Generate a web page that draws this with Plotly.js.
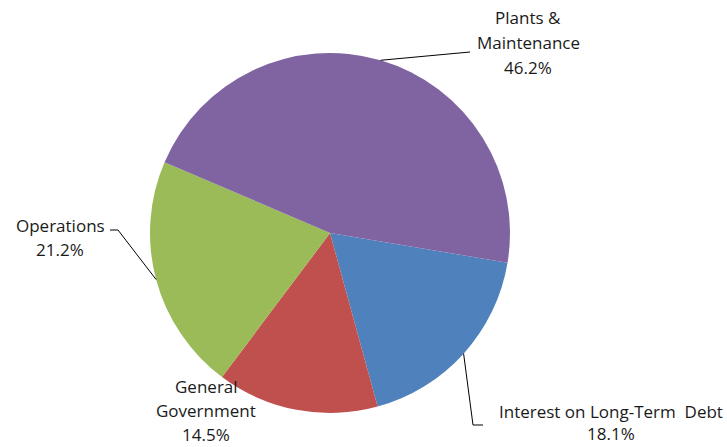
<!DOCTYPE html>
<html>
<head>
<meta charset="utf-8">
<script src="https://cdn.plot.ly/plotly-3.0.1.min.js"></script>
<style>html,body{margin:0;padding:0;background:#fff;}#chart{width:727px;height:447px;}</style>
</head>
<body>
<div id="chart"></div>
<script>
// Data
const categories = ["Interest on Long-Term  Debt", "General<br>Government", "Operations", "Plants &<br>Maintenance"];
const values = [18.1, 14.5, 21.2, 46.2];
const colors = ["#4F81BD", "#C0504D", "#9BBB59", "#8064A2"];

const W = 727, H = 447;
const cx = 330, cy = 233, R = 180;
const rotation = 99.5;
const px = x => x / W;
const py = y => 1 - y / H;

// mid-angle edge points computed from values (clockwise from 12 o'clock)
const total = values.reduce((a, b) => a + b, 0);
let acc = rotation;
const mids = values.map(v => {
  const a0 = acc, a1 = acc + v / total * 360;
  acc = a1;
  const m = (a0 + a1) / 2 * Math.PI / 180;
  return [cx + R * Math.sin(m), cy - R * Math.cos(m)];
});

// label placement (pixels: center x, first line center y) and leader-line elbows
const labelPos = [[611, 411], [206, 386], [60, 225], [528, 18]];
const lineGap = [22.5, 24, 24, 24.5];
const leaders = [
  [[473, 425], [483, 425]],
  null,
  [[118, 230], [110, 230]],
  [[470, 52]]
];

const shapes = [];
leaders.forEach((pts, i) => {
  if (!pts) return;
  let prev = mids[i];
  pts.forEach(p => {
    shapes.push({type: "line", xref: "paper", yref: "paper",
      x0: px(prev[0]), y0: py(prev[1]), x1: px(p[0]), y1: py(p[1]),
      line: {color: "#000", width: 1}});
    prev = p;
  });
});

const annotations = [];
categories.forEach((c, i) => {
  const lines = c.split("<br>").concat([values[i].toFixed(1) + "%"]);
  lines.forEach((t, k) => {
    annotations.push({
      xref: "paper", yref: "paper",
      x: px(labelPos[i][0]), y: py(labelPos[i][1] + k * lineGap[i]),
      xanchor: "center", yanchor: "middle", borderpad: 0,
      text: t, showarrow: false, align: "center",
      font: {family: "'Open Sans', 'Liberation Sans', sans-serif", size: 17, color: "#1a1a1a"}
    });
  });
});

const data = [{
  type: "pie",
  labels: categories,
  values: values,
  sort: false,
  direction: "clockwise",
  rotation: rotation,
  marker: {colors: colors, line: {width: 0}},
  textinfo: "none",
  hoverinfo: "label+percent",
  domain: {x: [px(cx - R), px(cx + R)], y: [py(cy + R), py(cy - R)]},
  showlegend: false
}];

const layout = {
  width: W, height: H,
  margin: {l: 0, r: 0, t: 0, b: 0},
  paper_bgcolor: "#fff",
  showlegend: false,
  annotations: annotations,
  shapes: shapes
};

Plotly.newPlot("chart", data, layout, {displayModeBar: false, staticPlot: true});
</script>
</body>
</html>
